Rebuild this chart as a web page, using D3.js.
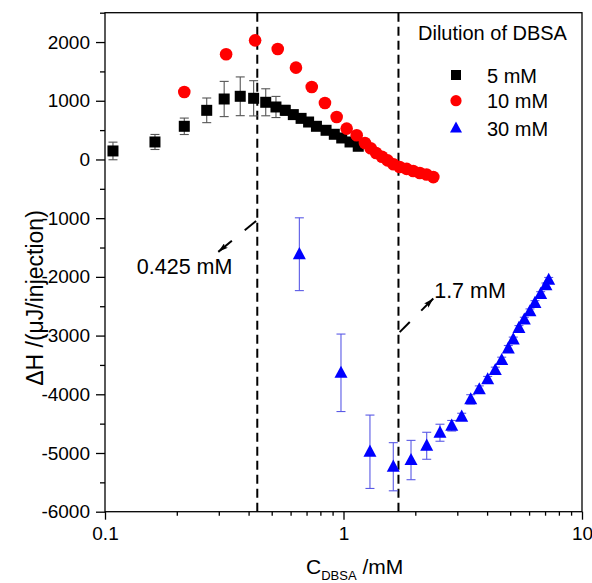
<!DOCTYPE html>
<html><head><meta charset="utf-8">
<script src="https://cdn.jsdelivr.net/npm/d3@7"></script>
<style>body{margin:0;background:#fff} svg{display:block} text{font-family:"Liberation Sans",Arial,sans-serif;fill:#000}</style>
</head><body><svg id="c" width="592" height="583"></svg>
<script>
// ---- data ----
const conc5 = [0.108,0.162,0.215,0.267,0.316,0.369,0.420,0.472,0.521,0.570,0.616,0.664,0.714,0.770,0.845,0.915,0.983,1.065,1.153];
const dH5   = [145,298,565,837,1030,1076,1042,974,894,837,764,700,638,565,497,429,366,298,225];
const err5  = [150,128,140,210,300,330,300,230,180,85,60,40,30,30,20,20,20,20,20];

const conc10 = [0.215,0.322,0.426,0.530,0.632,0.736,0.836,0.936,1.031,1.136,1.230,1.30,1.37,1.45,1.53,1.62,1.72,1.84,1.96,2.09,2.23,2.38];
const dH10   = [1149,1791,2029,1881,1564,1234,962,723,526,412,281,190,110,45,-15,-82,-128,-160,-196,-230,-255,-300];

const conc30 = [0.653,0.976,1.291,1.617,1.919,2.233,2.538,2.843,3.130,3.415,3.710,4.023,4.330,4.606,4.909,5.15,5.44,5.73,6.05,6.35,6.71,7.06,7.25];
const dH30   = [-1614,-3634,-4979,-5234,-5120,-4877,-4655,-4536,-4383,-4087,-3917,-3746,-3588,-3418,-3219,-3066,-2870,-2728,-2586,-2445,-2292,-2145,-2050];
const err30  = [620,660,625,410,335,230,145,90,60,80,60,50,50,50,50,40,40,40,40,40,40,40,40];

const seriesNames = ["5 mM","10 mM","30 mM"];
const legendTitle = "Dilution of DBSA";

const xTicks = [0.1,1,10];
const xTickLabels = ["0.1","1","10"];
const xMinor = [0.2,0.3,0.4,0.5,0.6,0.7,0.8,0.9,2,3,4,5,6,7,8,9];
const yTicks = [2000,1000,0,-1000,-2000,-3000,-4000,-5000,-6000];
const yTickLabels = ["2000","1000","0","-1000","-2000","-3000","-4000","-5000","-6000"];
const yMinor = [2500,1500,500,-500,-1500,-2500,-3500,-4500,-5500];

const cmcLines = [0.435, 1.7];
const cmcLabels = ["0.425 mM","1.7 mM"];

// ---- layout ----
const svg = d3.select("#c");
const L=105,R=582,T=12.7,B=511.7;
const x = d3.scaleLog().domain([0.1,10]).range([L,R]);
const y = d3.scaleLinear().domain([-6000,2500]).range([B,T]);
const FS = 19;

// axes
svg.append("g").attr("transform",`translate(0,${B})`)
  .call(d3.axisBottom(x).tickValues(xTicks).tickFormat((d,i)=>xTickLabels[i]).tickSize(8).tickSizeOuter(0).tickPadding(7));
svg.append("g").attr("transform",`translate(0,${B})`)
  .call(d3.axisBottom(x).tickValues(xMinor).tickFormat("").tickSize(4).tickSizeOuter(0));
svg.append("g").attr("transform",`translate(${L},0)`)
  .call(d3.axisLeft(y).tickValues(yTicks).tickFormat((d,i)=>yTickLabels[i]).tickSize(9).tickSizeOuter(0).tickPadding(6));
svg.append("g").attr("transform",`translate(${L},0)`)
  .call(d3.axisLeft(y).tickValues(yMinor).tickFormat("").tickSize(5).tickSizeOuter(0));
svg.selectAll(".domain").remove();
svg.selectAll(".tick line").attr("stroke","#000").attr("stroke-width",1.3);
svg.selectAll(".tick text").attr("font-size",FS).attr("font-family","Liberation Sans, Arial, sans-serif").attr("fill","#000");

// frame
svg.append("rect").attr("x",L).attr("y",T).attr("width",R-L).attr("height",B-T)
  .attr("fill","none").attr("stroke","#000").attr("stroke-width",1.3);

// axis titles
svg.append("text").attr("transform",`translate(43,298) rotate(-90)`)
  .attr("text-anchor","middle").attr("font-size",23).text("ΔH /(μJ/injection)");
const xt = svg.append("text").attr("x",306).attr("y",574).attr("font-size",21);
xt.append("tspan").text("C");
xt.append("tspan").attr("font-size",13).attr("dy",6).text("DBSA");
xt.append("tspan").attr("dy",-6).text(" /mM");

// dashed CMC lines
cmcLines.forEach(v=>{
  svg.append("line").attr("x1",x(v)).attr("x2",x(v)).attr("y1",T).attr("y2",B)
    .attr("stroke","#000").attr("stroke-width",2).attr("stroke-dasharray","9,5");
});

// arrows
svg.append("defs").append("marker").attr("id","ah").attr("viewBox","0 0 10 6")
  .attr("refX",10).attr("refY",3).attr("markerWidth",10).attr("markerHeight",6)
  .attr("markerUnits","userSpaceOnUse").attr("orient","auto")
  .append("path").attr("d","M0,0L10,3L0,6L2,3Z").attr("fill","#000");
function arrow(x0,y0,x1,y1){
  const px0=x(x0),py0=y(y0),px1=x(x1),py1=y(y1);
  const lp=(t)=>[px0+(px1-px0)*t, py0+(py1-py0)*t];
  const a=lp(0),b=lp(0.3),c=lp(0.64),d=lp(1);
  svg.append("line").attr("x1",a[0]).attr("y1",a[1]).attr("x2",b[0]).attr("y2",b[1]).attr("stroke","#000").attr("stroke-width",2);
  svg.append("line").attr("x1",c[0]).attr("y1",c[1]).attr("x2",d[0]).attr("y2",d[1]).attr("stroke","#000").attr("stroke-width",2).attr("marker-end","url(#ah)");
}
arrow(0.43,-1047,0.2985,-1574);
arrow(1.72,-2941,2.38,-2368);
svg.append("text").attr("x",x(0.136)).attr("y",y(-1954)).attr("font-size",21.5).text(cmcLabels[0]);
svg.append("text").attr("x",x(2.40)).attr("y",y(-2368)).attr("font-size",21.5).text(cmcLabels[1]);

// error bars
function errBars(cs,vs,es,color,w){
  const g=svg.append("g").attr("stroke",color).attr("stroke-width",w);
  cs.forEach((c,i)=>{
    const e=es[i]; if(!e) return;
    const cx=x(c), y0=y(vs[i]-e), y1=y(vs[i]+e);
    g.append("line").attr("x1",cx).attr("x2",cx).attr("y1",y0).attr("y2",y1);
    g.append("line").attr("x1",cx-4.5).attr("x2",cx+4.5).attr("y1",y0).attr("y2",y0);
    g.append("line").attr("x1",cx-4.5).attr("x2",cx+4.5).attr("y1",y1).attr("y2",y1);
  });
}
errBars(conc5,dH5,err5,"#555",1.1);
errBars(conc30,dH30,err30,"#5a5ae6",1.1);

// markers
const sq=11;
svg.append("g").selectAll("rect").data(conc5).join("rect")
  .attr("x",(d)=>x(d)-sq/2).attr("y",(d,i)=>y(dH5[i])-sq/2).attr("width",sq).attr("height",sq).attr("fill","#000");
svg.append("g").selectAll("circle").data(conc10).join("circle")
  .attr("cx",d=>x(d)).attr("cy",(d,i)=>y(dH10[i])).attr("r",6.3).attr("fill","#ff0000");
const tri=(w)=>`M0,${-w*0.55}L${w/2},${w*0.38}L${-w/2},${w*0.38}Z`;
svg.append("g").selectAll("path").data(conc30).join("path")
  .attr("d",tri(13)).attr("transform",(d,i)=>`translate(${x(d)},${y(dH30[i])})`).attr("fill","#0000ff");

// legend
svg.append("text").attr("x",418).attr("y",39.5).attr("font-size",20).text(legendTitle);
const ly=[75,100.7,128];
svg.append("rect").attr("x",456-5).attr("y",ly[0]-5).attr("width",10).attr("height",10).attr("fill","#000");
svg.append("circle").attr("cx",456).attr("cy",ly[1]).attr("r",5.6).attr("fill","#ff0000");
svg.append("path").attr("d",tri(12)).attr("transform",`translate(456,${ly[2]})`).attr("fill","#0000ff");
seriesNames.forEach((n,i)=>{
  svg.append("text").attr("x",487).attr("y",ly[i]+7.5).attr("font-size",20).text(n);
});
</script></body></html>
